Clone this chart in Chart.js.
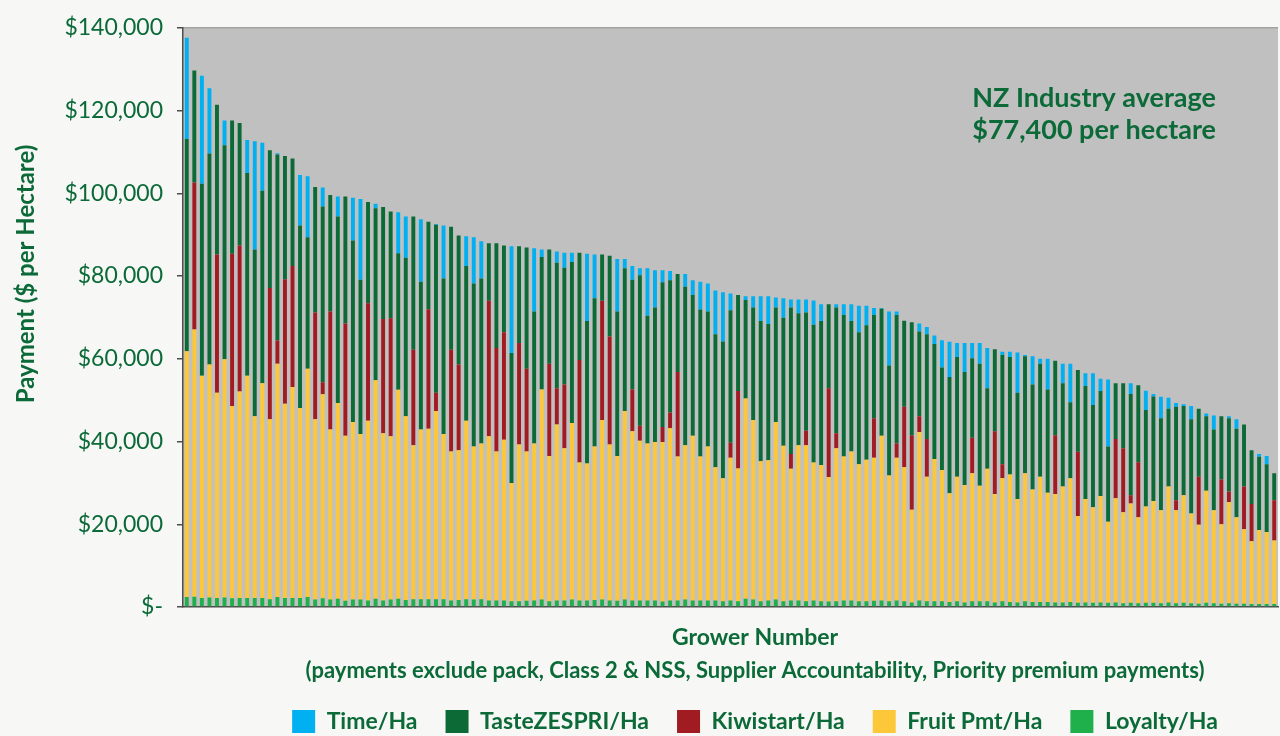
<!DOCTYPE html>
<html>
<head>
<meta charset="utf-8">
<script src="https://cdn.jsdelivr.net/npm/chart.js@4.4.1/dist/chart.umd.min.js"></script>
<style>
  html, body { margin: 0; padding: 0; background: #f7f7f5; }
  #wrap { width: 1280px; height: 736px; }
</style>
</head>
<body>
<div id="wrap"><canvas id="chart" width="1280" height="736"></canvas></div>
<script>
// Grower numbers (sorted by total payment, highest first)
const growers = Array.from({ length: 145 }, (_, i) => String(i + 1));

// Payments per hectare (NZ$)
const timeHa = [
  24500, 0, 26100, 15800, 0, 6000, 0, 0, 8000, 26200,
  11600, 0, 300, 0, 0, 12200, 14700, 0, 4600, 0,
  4800, 0, 10300, 19500, 0, 1100, 0, 0, 9900, 10000,
  0, 15100, 0, 200, 12800, 0, 0, 7200, 11200, 9000,
  0, 0, 0, 25800, 0, 0, 15300, 1800, 0, 2700,
  3600, 2200, 0, 16300, 10600, 0, 0, 12700, 2200, 3300,
  1700, 11500, 9000, 2900, 2200, 0, 3100, 3600, 6700, 6800,
  10600, 11900, 4100, 0, 900, 2700, 6000, 6700, 2400, 4700,
  1900, 3300, 3100, 5900, 4100, 0, 800, 2600, 4100, 6400,
  4700, 1700, 200, 13000, 800, 0, 0, 1900, 1800, 2000,
  6600, 8500, 3400, 7000, 3700, 5000, 9700, 0, 800, 1300,
  9700, 300, 6800, 1200, 7400, 0, 4700, 9300, 0, 3100,
  7700, 3000, 16200, 0, 0, 2600, 0, 4700, 600, 5200,
  2700, 900, 400, 3200, 0, 700, 3400, 0, 500, 2300,
  0, 0, 700, 2000, 0
];
const tasteHa = [
  51300, 27100, 46400, 51000, 36200, 51700, 32200, 29600, 49000, 40300,
  46500, 33300, 45000, 29800, 26000, 44100, 31800, 30300, 42500, 28200,
  45100, 30700, 43900, 37300, 24500, 41600, 27100, 25800, 33000, 38300,
  32200, 35700, 21100, 40600, 37600, 29700, 31200, 37400, 39400, 39900,
  13900, 25300, 21000, 31400, 23400, 29300, 31900, 32000, 27600, 30300,
  28200, 38900, 25900, 34400, 35800, 11200, 19500, 34900, 34500, 26500,
  36400, 30900, 32500, 35000, 32000, 23700, 38300, 34000, 35500, 32600,
  32100, 33100, 32000, 23200, 23800, 27200, 33900, 32900, 27700, 30900,
  35400, 31900, 28600, 33300, 34800, 20300, 30400, 34200, 31500, 31900,
  32500, 25000, 30700, 26600, 31100, 20800, 27300, 20500, 25300, 27800,
  24800, 28100, 28900, 27300, 19200, 29500, 19500, 19800, 26400, 28400,
  25700, 28300, 25400, 27300, 25000, 18000, 25000, 18400, 19800, 27300,
  24700, 25400, 18200, 13500, 15700, 24500, 18600, 23300, 25300, 22200,
  18800, 22600, 21600, 22800, 16400, 18000, 19500, 15300, 17700, 21400,
  15000, 13000, 17700, 16400, 6500
];
const kiwistartHa = [
  0, 35500, 0, 0, 33400, 0, 36800, 35300, 0, 0,
  0, 31700, 5600, 30100, 29200, 0, 0, 25800, 2900, 28500,
  0, 27100, 0, 0, 28400, 0, 27600, 28500, 0, 0,
  23100, 0, 28900, 4400, 0, 24600, 20700, 0, 0, 0,
  32700, 25000, 26000, 0, 24500, 20000, 0, 0, 22300, 8800,
  15400, 0, 24800, 0, 0, 28800, 26100, 0, 0, 10100,
  3600, 0, 0, 3600, 3800, 20400, 0, 0, 0, 0,
  0, 0, 3600, 18700, 0, 0, 0, 0, 0, 0,
  3600, 0, 3500, 0, 0, 21500, 3600, 0, 0, 0,
  0, 9500, 0, 0, 3400, 14600, 18000, 3800, 9100, 0,
  0, 0, 0, 0, 8600, 0, 0, 15200, 3300, 0,
  0, 0, 0, 0, 0, 14200, 0, 0, 15500, 0,
  0, 0, 0, 14300, 15500, 2000, 13300, 0, 0, 0,
  0, 2400, 0, 0, 11600, 0, 0, 10800, 2500, 0,
  10300, 9000, 0, 0, 9700
];
const fruitHa = [
  59400, 64600, 53700, 56300, 49600, 57600, 46500, 49900, 53700, 43900,
  51900, 43500, 56400, 46900, 51000, 45900, 55200, 43600, 49300, 41100,
  47300, 39900, 42900, 40000, 43400, 52800, 40400, 39500, 50500, 44400,
  37200, 41000, 41200, 45500, 39900, 36000, 36200, 43100, 37000, 37600,
  39700, 36000, 38800, 28600, 37900, 36100, 37900, 50800, 35100, 42500,
  36800, 42700, 33300, 33100, 37100, 43400, 37700, 35000, 45600, 40900,
  38600, 37900, 38300, 38600, 41600, 34800, 37300, 39800, 34800, 37200,
  32200, 29700, 34500, 32100, 48400, 43400, 33800, 33900, 42900, 37600,
  31800, 37500, 37700, 33300, 32900, 30100, 37000, 34800, 36000, 33100,
  34200, 34600, 39800, 30400, 34500, 32400, 22400, 40700, 30100, 34400,
  31700, 26300, 30100, 28400, 30900, 27900, 32000, 26200, 29800, 30800,
  25000, 30900, 27200, 30300, 26400, 26200, 28000, 29900, 21000, 25000,
  23100, 25700, 19600, 25200, 22000, 24000, 20800, 23300, 24600, 22500,
  28000, 22500, 26000, 21700, 19100, 27100, 22500, 19200, 24500, 20900,
  18000, 15200, 17900, 17400, 15400
];
const loyaltyHa = [
  2400, 2500, 2200, 2300, 2200, 2300, 2100, 2200, 2200, 2200,
  2200, 1900, 2400, 2200, 2200, 2200, 2400, 1800, 2100, 1800,
  2000, 1500, 1800, 1800, 1600, 2000, 1600, 1800, 2000, 1700,
  1900, 1900, 1900, 1900, 1900, 1600, 1700, 1900, 1800, 1900,
  1600, 1600, 1600, 1400, 1400, 1500, 1600, 1800, 1400, 1600,
  1600, 1800, 1600, 1600, 1700, 1800, 1600, 1500, 1800, 1600,
  1600, 1600, 1600, 1300, 1600, 1600, 1800, 1600, 1600, 1600,
  1600, 1400, 1600, 1400, 2000, 1800, 1400, 1600, 1800, 1400,
  1600, 1600, 1400, 1600, 1400, 1300, 1400, 1600, 1600, 1400,
  1400, 1500, 1600, 1400, 1600, 1400, 1100, 1600, 1400, 1400,
  1400, 1200, 1400, 1100, 1400, 1400, 1400, 1100, 1400, 1200,
  1100, 1400, 1200, 1200, 1200, 1100, 1100, 1200, 1000, 1100,
  1000, 1100, 1000, 1100, 900, 1000, 900, 1000, 1000, 900,
  1100, 900, 1000, 900, 800, 1000, 900, 800, 900, 800,
  800, 700, 700, 700, 700
];

// Y axis ticks
const yTicks = [0, 20000, 40000, 60000, 80000, 100000, 120000, 140000];

const GREEN_TEXT = '#0b6a38';
const FONT = 'Lato, "Open Sans", sans-serif';

// Plot background, titles and the industry average note
const decorations = {
  id: 'decorations',
  afterLayout(chart) {
    const lg = chart.legend;
    const dx = 755 - (lg.left + lg.right) / 2;
    const dy = 7;
    lg.left += dx; lg.right += dx;
    lg.top += dy; lg.bottom += dy;
  },
  beforeDraw(chart) {
    const { ctx, chartArea: a } = chart;
    ctx.save();
    ctx.fillStyle = '#c0c0c0';
    ctx.fillRect(a.left, a.top, a.right - a.left, a.bottom - a.top);
    ctx.strokeStyle = '#a3a3a3';
    ctx.lineWidth = 1.5;
    ctx.beginPath();
    ctx.moveTo(a.left, a.top);
    ctx.lineTo(a.right, a.top);
    ctx.stroke();
    ctx.restore();
  },
  afterDraw(chart) {
    const { ctx } = chart;
    ctx.save();
    ctx.fillStyle = GREEN_TEXT;
    ctx.textBaseline = 'middle';

    // y axis title
    ctx.save();
    ctx.translate(26, 274);
    ctx.rotate(-Math.PI / 2);
    ctx.textAlign = 'center';
    ctx.font = 'bold 24px ' + FONT;
    ctx.fillText('Payment ($ per Hectare)', 0, 0);
    ctx.restore();

    // x axis title
    ctx.textAlign = 'center';
    ctx.font = 'bold 23px ' + FONT;
    ctx.fillText('Grower Number', 755, 638);
    ctx.font = 'bold 22px ' + FONT;
    ctx.fillText('(payments exclude pack, Class 2 & NSS, Supplier Accountability, Priority premium payments)', 755, 671);

    // industry average
    ctx.textAlign = 'right';
    ctx.font = 'bold 27px ' + FONT;
    ctx.fillText('NZ Industry average', 1216, 98);
    ctx.fillText('$77,400 per hectare', 1216, 130);
    ctx.restore();
  }
};

const config = {
  type: 'bar',
  data: {
    labels: growers,
    datasets: [
      { label: 'Loyalty/Ha', data: loyaltyHa, backgroundColor: '#1fb04c' },
      { label: 'Fruit Pmt/Ha', data: fruitHa, backgroundColor: '#fcc83a' },
      { label: 'Kiwistart/Ha', data: kiwistartHa, backgroundColor: '#a01c22' },
      { label: 'TasteZESPRI/Ha', data: tasteHa, backgroundColor: '#0c6a36' },
      { label: 'Time/Ha', data: timeHa, backgroundColor: '#00b0f0' }
    ]
  },
  options: {
    responsive: false,
    animation: false,
    layout: { padding: { top: 25, right: 2, left: 0, bottom: 0 } },
    datasets: {
      bar: { barPercentage: 0.52, categoryPercentage: 1, borderWidth: 0 }
    },
    plugins: {
      tooltip: { enabled: false },
      legend: {
        position: 'bottom',
        fullSize: false,
        reverse: true,
        labels: {
          boxWidth: 23,
          boxHeight: 23,
          padding: 28,
          color: GREEN_TEXT,
          font: { family: FONT, size: 23, weight: 'bold' }
        }
      }
    },
    scales: {
      x: {
        stacked: true,
        ticks: { display: false },
        grid: { display: false },
        border: { display: true, color: '#4d4d4d', width: 1.5 },
        afterFit: (s) => { s.height = 68; }
      },
      y: {
        stacked: true,
        min: 0,
        max: 140000,
        afterBuildTicks: (s) => { s.ticks = yTicks.map(v => ({ value: v })); },
        ticks: {
          color: GREEN_TEXT,
          padding: 14,
          font: { family: FONT, size: 23 },
          callback: (v) => v === 0 ? '$-' : '$' + v.toLocaleString('en-US')
        },
        grid: { drawOnChartArea: false, tickLength: 6, color: '#4d4d4d', lineWidth: 1.5 },
        border: { display: true, color: '#4d4d4d', width: 1.5 },
        afterFit: (s) => { s.width = 183; }
      }
    }
  },
  plugins: [decorations]
};

new Chart(document.getElementById('chart'), config);
</script>
</body>
</html>
